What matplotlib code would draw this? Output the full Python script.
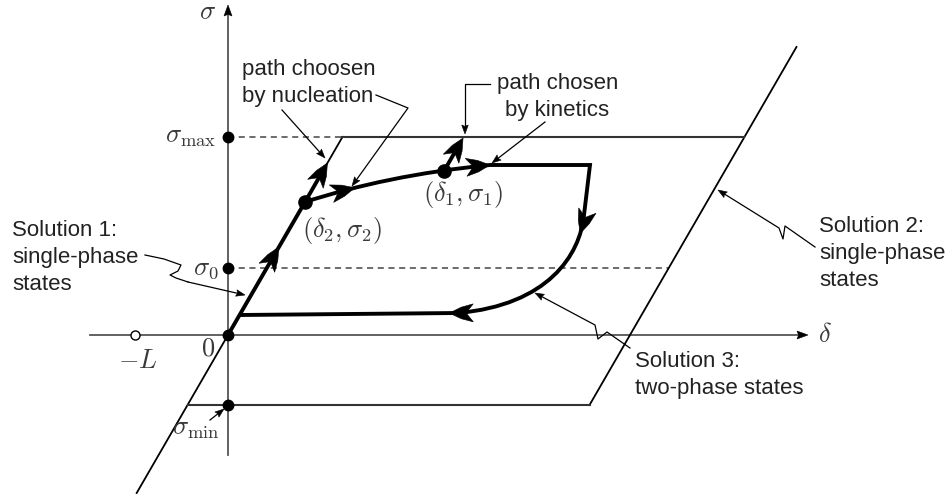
import numpy as np
import matplotlib
matplotlib.use("Agg")
import matplotlib.pyplot as plt
from matplotlib.path import Path
from matplotlib.patches import PathPatch, Polygon

# ---------------- data (schematic units: delta to the right, sigma up) ----------------
sigma_levels = [198, 67, -70]            # sigma_max, sigma_0, sigma_min
level_labels = [r"$\sigma_{\max}$", r"$\sigma_0$", r"$\sigma_{\min}$"]
L_value = 93                              # position of -L on the delta axis
branch_slope = 0.578                      # d(delta)/d(sigma) of single-phase branches
sol2_offset = 402                         # delta intercept of Solution 2 branch
sol1_sigma_range = [-158, 198]
sol2_sigma_range = [-70, 288]
point1 = [216, 164]                       # (delta1, sigma1)
point2 = [77, 133]                        # (delta2, sigma2)
upper_branch = [[77, 133], [130, 150], [190, 163], [262, 170]]   # Bezier control pts
plateau_end = [362, 170]
unloading_curve = [[356, 120], [352, 80], [320, 30], [230, 22]]  # Bezier control pts
lower_branch_end = [12, 20]
sigma_axis = [-120, 330]
delta_axis = [-138, 580]

plt.rcParams["mathtext.fontset"] = "cm"
SANS = ["Liberation Sans", "DejaVu Sans"]
TXT = "#222222"
MATH = "#3a3a3a"

fig = plt.figure(figsize=(9.5, 4.97), dpi=100)
ax = fig.add_axes([0, 0, 1, 1])
ax.set_xlim(-228, 722)
ax.set_ylim(-162, 335)
ax.set_aspect("equal")
ax.axis("off")

HL, HW, HN = 24, 9.0, 0.3


def head(tip, direction, L=HL, W=HW, notch=HN, color="black", z=5, bulge=0.64):
    d = np.asarray(direction, float)
    d = d / np.hypot(*d)
    n = np.array([-d[1], d[0]])
    tip = np.asarray(tip, float)
    back = tip - L * d
    mid = tip - 0.5 * L * d
    pts = [tip, mid + bulge * W * n, back + W * n, tip - L * (1 - notch) * d,
           back - W * n, mid - bulge * W * n]
    ax.add_patch(Polygon(pts, closed=True, fc=color, ec=color, lw=0.4, zorder=z,
                         joinstyle="miter"))


def bez(cp, t):
    p0, p1, p2, p3 = [np.asarray(p, float) for p in cp]
    pt = (1 - t) ** 3 * p0 + 3 * (1 - t) ** 2 * t * p1 + 3 * (1 - t) * t ** 2 * p2 + t ** 3 * p3
    tg = 3 * (1 - t) ** 2 * (p1 - p0) + 6 * (1 - t) * t * (p2 - p1) + 3 * t ** 2 * (p3 - p2)
    return pt, tg


def on_sol1(s):
    return branch_slope * s


def on_sol2(s):
    return sol2_offset + branch_slope * s


TH = 2.8


def thick_arrow(start, tip):
    start = np.asarray(start, float)
    tip = np.asarray(tip, float)
    d = tip - start
    d = d / np.hypot(*d)
    end = tip - HL * (1 - HN) * d
    ax.plot([start[0], end[0]], [start[1], end[1]], color="black", lw=TH, zorder=4,
            solid_capstyle="butt")
    head(tip, d)


smax, s0, smin = sigma_levels
slope_dir = (branch_slope, 1.0)

# ---------------- axes ----------------
axc = "#555555"
ax.plot([0, 0], [sigma_axis[0], sigma_axis[1] - 6], color=axc, lw=1.3, zorder=1)
head((0, sigma_axis[1]), (0, 1), L=11, W=4, notch=0.15, bulge=0.5)
ax.plot([delta_axis[0], delta_axis[1] - 6], [0, 0], color=axc, lw=1.3, zorder=1)
head((delta_axis[1], 0), (1, 0), L=11, W=4, notch=0.15, bulge=0.5)

# ---------------- solution branches ----------------
ax.plot([on_sol1(sol1_sigma_range[0]), on_sol1(sol1_sigma_range[1])], sol1_sigma_range,
        color="black", lw=1.3, zorder=2)
ax.plot([on_sol2(sol2_sigma_range[0]), on_sol2(sol2_sigma_range[1])], sol2_sigma_range,
        color="black", lw=1.3, zorder=2)

ax.plot([0, on_sol1(smax)], [smax, smax], color="#444", lw=1.1, ls=(0, (4, 3)), zorder=1)
ax.plot([on_sol1(smax), on_sol2(smax)], [smax, smax], color="#333", lw=1.5, zorder=2)
ax.plot([0, on_sol2(s0)], [s0, s0], color="#444", lw=1.1, ls=(0, (4, 3)), zorder=1)
ax.plot([on_sol1(smin), on_sol2(smin)], [smin, smin], color="#333", lw=1.5, zorder=2)

# ---------------- thick loading path ----------------
ax.plot([0, point2[0]], [0, point2[1]], color="black", lw=TH, zorder=4, solid_capstyle="butt")
s_a = 88
head((on_sol1(s_a), s_a), slope_dir)
s_top = 172
thick_arrow(point2, (on_sol1(s_top), s_top))
thick_arrow(point1, (point1[0] + branch_slope * (smax - 1 - point1[1]), smax - 1))

verts = [upper_branch[0], upper_branch[1], upper_branch[2], upper_branch[3],
         plateau_end, unloading_curve[0], unloading_curve[1], unloading_curve[2],
         unloading_curve[3], lower_branch_end]
codes = [Path.MOVETO, Path.CURVE4, Path.CURVE4, Path.CURVE4,
         Path.LINETO, Path.LINETO, Path.CURVE4, Path.CURVE4, Path.CURVE4, Path.LINETO]
ax.add_patch(PathPatch(Path(verts, codes), fc="none", ec="black", lw=TH, zorder=4,
                       joinstyle="miter", capstyle="butt"))

pt, tg = bez(upper_branch, 0.3)
head(pt, tg)
pt, tg = bez(upper_branch, 1.0)
head(pt, tg)
pt, tg = bez(unloading_curve, 0.15)
head(pt, tg)
lb0 = np.asarray(unloading_curve[3], float)
lb1 = np.asarray(lower_branch_end, float)
head(lb0 + 0.04 * (lb1 - lb0), lb1 - lb0)

# ---------------- points ----------------
for s in sigma_levels + [0]:
    ax.plot(0, s, "o", ms=7.5, color="black", zorder=6)
ax.plot(*point1, "o", ms=9.5, color="black", zorder=6)
ax.plot(*point2, "o", ms=9.5, color="black", zorder=6)
ax.plot(-L_value, 0, "o", ms=6.5, mfc="white", mec="black", mew=1.0, zorder=6)

# ---------------- math labels ----------------
mfs = 19
ax.text(-20, 323, r"$\sigma$", fontsize=mfs, color=MATH, ha="center", va="center")
ax.text(-12, 192, level_labels[0], fontsize=mfs, color=MATH, ha="right", va="baseline")
ax.text(-9, 60, level_labels[1], fontsize=mfs, color=MATH, ha="right", va="baseline")
ax.text(-8, -100, level_labels[2], fontsize=mfs, color=MATH, ha="right", va="baseline")
ax.text(-20, -13, r"$0$", fontsize=mfs, color=MATH, ha="center", va="center")
ax.text(-L_value + 3, -26, r"$-L$", fontsize=mfs, color=MATH, ha="center", va="center")
ax.text(114, 104, r"$(\delta_2,\sigma_2)$", fontsize=mfs, color=MATH, ha="center", va="center")
ax.text(235, 141, r"$(\delta_1,\sigma_1)$", fontsize=mfs, color=MATH, ha="center", va="center")
ax.text(597, 0, r"$\delta$", fontsize=mfs, color=MATH, ha="center", va="center")

# ---------------- sans labels ----------------
fs = 16


def lines(x, y, txts, ha="left", dy=27):
    for i, t in enumerate(txts):
        ax.text(x, y - i * dy, t, fontsize=fs, color=TXT, family=SANS, ha=ha, va="baseline")


lines(14, 260, ["path choosen", "by nucleation"])
lines(329.5, 246, ["path chosen", "by kinetics"], ha="center")
lines(-216, 99, ["Solution 1:", "single-phase", "states"])
lines(591, 103, ["Solution 2:", "single-phase", "states"])
lines(407, -32, ["Solution 3:", "two-phase states"])

# ---------------- callouts ----------------
CL = dict(color="black", lw=0.9, zorder=3)


def callout(pts):
    pts = np.asarray(pts, float)
    d = pts[-1] - pts[-2]
    d = d / np.hypot(*d)
    seg = pts.copy()
    seg[-1] = pts[-1] - 6 * d
    ax.plot(seg[:, 0], seg[:, 1], **CL)
    head(pts[-1], d, L=9, W=3.3, notch=0.15, z=3, bulge=0.5)


callout([[54, 225], [97, 177]])
callout([[148, 240], [180, 227], [124, 149]])
ax.plot([262, 237, 237], [251, 251, 210], **CL)
head((237, 201), (0, -1), L=9, W=3.3, notch=0.15, z=3, bulge=0.5)
callout([[317, 213], [264, 172]])

sq1 = np.array([[-83, 80], [-64, 76], [-47, 70], [-50, 64], [-58, 60], [-52, 57], [-40, 53], [17, 40]])
ax.plot(sq1[:-1, 0], sq1[:-1, 1], color="black", lw=0.9, zorder=3)
callout([sq1[-2], sq1[-1]])
callout([[587, 88], [557, 109], [555, 96], [551, 107], [490, 145]])
callout([[402, -13], [379, 3], [370, -4], [367, 10], [307, 42]])
callout([[-18, -85], [-4, -74]])

fig.savefig("out.png", dpi=100, facecolor="white")
